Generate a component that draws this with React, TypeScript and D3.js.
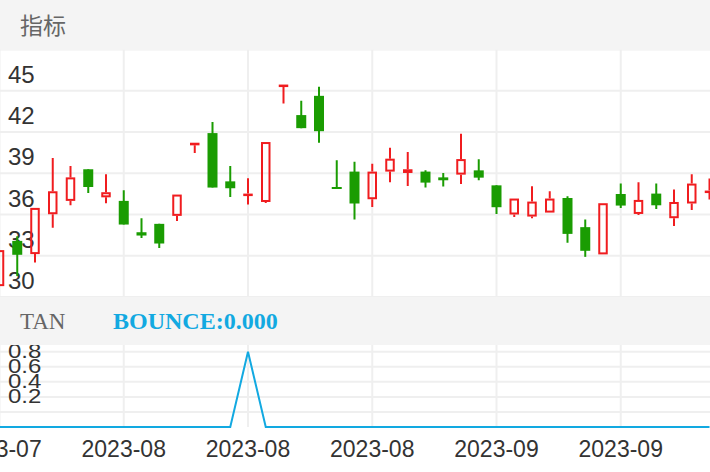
import * as d3 from "d3";

const opens = [30.79, 34.08, 33.12, 36.02, 36.99, 39.29, 37.25, 36.99, 34.71, 35.32, 35.9, 41.03, 41.92, 38.41, 37.35, 36.91, 45.31, 43.23, 44.63, 38.0, 39.12, 37.11, 39.12, 39.02, 39.12, 38.7, 38.9, 39.21, 38.12, 36.0, 35.85, 36.14, 37.2, 35.08, 33.1, 37.49, 36.04, 37.52, 35.73, 36.8, 37.57];
const highs = [33.41, 34.42, 36.48, 40.11, 39.53, 39.29, 38.92, 37.76, 35.73, 35.32, 37.45, 41.22, 42.72, 39.53, 38.63, 41.27, 45.45, 44.27, 45.29, 39.94, 39.84, 39.7, 40.86, 40.54, 39.21, 39.02, 41.88, 40.01, 38.12, 37.16, 38.05, 37.69, 37.33, 35.64, 36.82, 38.25, 38.34, 38.25, 37.81, 38.92, 38.62];
const lows = [30.79, 31.52, 32.51, 35.03, 36.67, 37.57, 36.82, 35.27, 34.3, 33.57, 35.53, 40.47, 37.96, 37.28, 36.72, 36.84, 44.08, 42.28, 41.22, 37.86, 35.64, 36.55, 38.34, 38.07, 37.96, 38.03, 38.22, 38.49, 36.04, 35.82, 35.73, 36.14, 33.94, 32.92, 33.1, 36.48, 35.97, 36.4, 35.17, 36.33, 37.09];
const closes = [33.41, 33.07, 36.48, 37.69, 38.7, 38.0, 37.62, 35.27, 34.47, 33.89, 37.45, 41.22, 37.96, 37.91, 37.52, 41.27, 45.45, 42.28, 42.06, 37.86, 36.8, 39.12, 40.06, 39.29, 38.32, 38.49, 40.03, 38.68, 36.53, 37.16, 36.94, 37.16, 34.59, 33.36, 36.82, 36.65, 37.06, 36.67, 36.91, 38.25, 37.74];
const bounce = [0, 0, 0, 0, 0, 0, 0, 0, 0, 0, 0, 0, 0, 0, 1, 0, 0, 0, 0, 0, 0, 0, 0, 0, 0, 0, 0, 0, 0, 0, 0, 0, 0, 0, 0, 0, 0, 0, 0, 0, 0];

const dateTickIndex = [0, 7, 14, 21, 28, 35];
const dateTickLabels = ["2023-07", "2023-08", "2023-08", "2023-08", "2023-09", "2023-09"];
const priceTicks = [30, 33, 36, 39, 42, 45, 48];
const bounceTicks = [0.2, 0.4, 0.6, 0.8, 1.0];

const W = 710;
const H = 472;
const RED = "#f01c1f";
const GREEN = "#1a9c02";
const CYAN = "#12a9e1";
const GRID = "#efefef";
const BAND = "#f4f4f4";
const SANS = "'Liberation Sans', Arial, Helvetica, sans-serif";
const SERIF = "'Liberation Serif', 'Times New Roman', serif";

const mainTop = 49.5;
const mainBottom = 297;
const indTop = 345;
const indBottom = 428;

export default function App() {
  const x = d3.scaleLinear().domain([0, opens.length - 1]).range([-0.5, 709.5]);
  const y = d3.scaleLinear().domain([30, 48]).range([mainBottom, mainTop]);
  const yb = d3.scaleLinear().domain([0, 1]).range([427, 351.7]);

  const line = d3
    .line<number>()
    .x((_, i) => x(i))
    .y((d) => yb(d));

  const candles = opens.map((o, i) => {
    const c = closes[i];
    const up = c >= o;
    const cx = x(i);
    const top = y(Math.max(o, c));
    const bot = y(Math.min(o, c));
    const hi = y(highs[i]);
    const lo = y(lows[i]);
    if (!up) {
      return (
        <g key={i}>
          <line x1={cx} x2={cx} y1={hi} y2={lo} stroke={GREEN} strokeWidth={2} />
          <rect x={cx - 5} y={top} width={10} height={Math.max(bot - top, 2)} fill={GREEN} />
        </g>
      );
    }
    const h = bot - top;
    return (
      <g key={i}>
        <line x1={cx} x2={cx} y1={hi} y2={top} stroke={RED} strokeWidth={2} />
        <line x1={cx} x2={cx} y1={bot} y2={lo} stroke={RED} strokeWidth={2} />
        <rect
          x={cx - 3.75}
          y={top + 1}
          width={7.5}
          height={Math.max(h - 2, 0.5)}
          fill="none"
          stroke={RED}
          strokeWidth={2}
        />
      </g>
    );
  });

  return (
    <div style={{ position: "absolute", left: 0, top: 0, width: W, height: H }}>
      <svg width={W} height={H} style={{ display: "block", background: "#fff" }}>
        <defs>
          <clipPath id="mainClip">
            <rect x={0} y={mainTop} width={W} height={mainBottom - mainTop} />
          </clipPath>
          <clipPath id="indClip">
            <rect x={0} y={indTop} width={W} height={indBottom - indTop} />
          </clipPath>
        </defs>

        {/* header band */}
        <rect x={0} y={0} width={W} height={mainTop} fill={BAND} />
        <text x={20} y={24} dominantBaseline="central" fontSize={23} fill="#666" fontFamily="'Noto Sans CJK SC', sans-serif">
          指标
        </text>

        {/* main panel */}
        <g clipPath="url(#mainClip)">
          {priceTicks.map((t) => (
            <line key={t} x1={0} x2={W} y1={y(t)} y2={y(t)} stroke={GRID} strokeWidth={2} />
          ))}
          {dateTickIndex.map((d) => (
            <line key={d} x1={x(d)} x2={x(d)} y1={mainTop} y2={mainBottom} stroke={GRID} strokeWidth={2} />
          ))}
          {priceTicks.map((t) => (
            <text key={t} x={8} y={y(t) - 8} fontSize={24} fill="#333" fontFamily={SANS}>
              {t}
            </text>
          ))}
          {candles}
        </g>

        {/* indicator title band */}
        <rect x={0} y={mainBottom} width={W} height={indTop - mainBottom} fill={BAND} />
        <text x={20} y={329} fontSize={23} fill="#666" fontFamily={SERIF}>
          TAN
        </text>
        <text x={113} y={329} fontSize={24} fontWeight="bold" fill={CYAN} fontFamily={SERIF}>
          BOUNCE:0.000
        </text>

        {/* indicator panel */}
        <g clipPath="url(#indClip)">
          {bounceTicks.map((t) => (
            <line key={t} x1={0} x2={W} y1={yb(t)} y2={yb(t)} stroke={GRID} strokeWidth={2} />
          ))}
          {dateTickIndex.map((d) => (
            <line key={d} x1={x(d)} x2={x(d)} y1={indTop} y2={427} stroke={GRID} strokeWidth={2} />
          ))}
          {bounceTicks.map((t) => (
            <text
              key={t}
              transform={`translate(8, ${yb(t) - 9}) scale(1, 0.82)`}
              fontSize={24}
              fill="#333"
              fontFamily={SANS}
            >
              {t.toFixed(1)}
            </text>
          ))}
          <path d={line(bounce) ?? ""} fill="none" stroke={CYAN} strokeWidth={2} />
        </g>

        {/* date axis */}
        {dateTickIndex.map((d, i) => (
          <text key={d} x={x(d)} y={456.5} textAnchor="middle" fontSize={23} fill="#333" fontFamily={SANS}>
            {dateTickLabels[i]}
          </text>
        ))}
      </svg>
    </div>
  );
}
